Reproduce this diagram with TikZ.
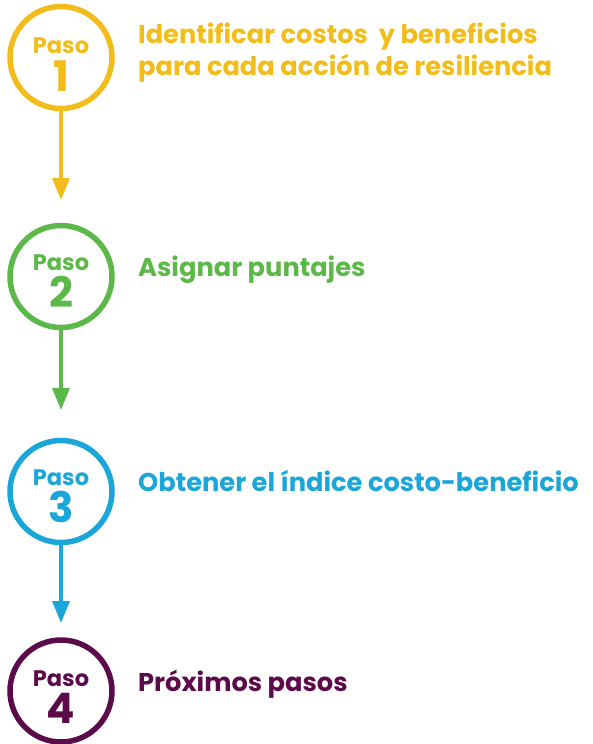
\documentclass[tikz,border=0pt]{standalone}
\usepackage{fontspec}
\setmainfont{Poppins}
\usepackage{tikz}
\usetikzlibrary{arrows.meta,shapes}

\begin{document}
\begin{tikzpicture}[x=1pt,y=-1pt]

		\definecolor{pyellow}{RGB}{242,189,26}
		\definecolor{pgreen}{RGB}{92,184,72}
		\definecolor{pblue}{RGB}{27,166,218}
		\definecolor{ppurple}{RGB}{91,10,74}

		\useasboundingbox (0,0) rectangle (593,744);

		\tikzstyle{edge} = [draw,-{Triangle[length=22pt,width=17pt]},line width=3.5pt]
		\tikzset{paso/.style = {shape=circle,draw,line width=5.5pt,minimum size=102pt,inner sep=0pt}}
		\tikzset{pasotxt/.style = {anchor=base,font=\fontsize{22.5}{22.5}\selectfont\bfseries}}
		\tikzset{pasonum/.style = {anchor=base,font=\fontsize{42}{42}\selectfont\bfseries}}
		\tikzset{titulo/.style = {anchor=base west,inner sep=0pt,align=left,font=\fontsize{25.7}{32}\selectfont\bfseries}}

		% pasos
		\node[paso,pyellow] (p1) at (61,57.5) {};
		\node[paso,pgreen] (p2) at (61,276.5) {};
		\node[paso,pblue] (p3) at (61,491.5) {};
		\node[paso,ppurple] (p4) at (61,691) {};

		\node[pasotxt,pyellow] (s1) at (61,53) {Paso};
		\node[pasonum,pyellow] (n1) at (61,91) {1};
		\node[pasotxt,pgreen] (s2) at (61,270) {Paso};
		\node[pasonum,pgreen] (n2) at (61,307) {2};
		\node[pasotxt,pblue] (s3) at (61,485) {Paso};
		\node[pasonum,pblue] (n3) at (61,522) {3};
		\node[pasotxt,ppurple] (s4) at (61,686) {Paso};
		\node[pasonum,ppurple] (n4) at (61,723) {4};

		% titulos
		\node[titulo,pyellow] (t1) at (138,75) {Identificar costos~ y beneficios\\para cada acción de resiliencia};
		\node[titulo,pgreen] (t2) at (138,276) {Asignar puntajes};
		\node[titulo,pblue] (t3) at (138,491) {Obtener el índice costo-beneficio};
		\node[titulo,ppurple] (t4) at (138,691) {Próximos pasos};

		% flechas
		\coordinate (a1) at (61,200);
		\coordinate (a2) at (61,410);
		\coordinate (a3) at (61,623);
		\draw[edge,pyellow] (p1) to (a1);
		\draw[edge,pgreen] (p2) to (a2);
		\draw[edge,pblue] (p3) to (a3);
\end{tikzpicture}
\end{document}
